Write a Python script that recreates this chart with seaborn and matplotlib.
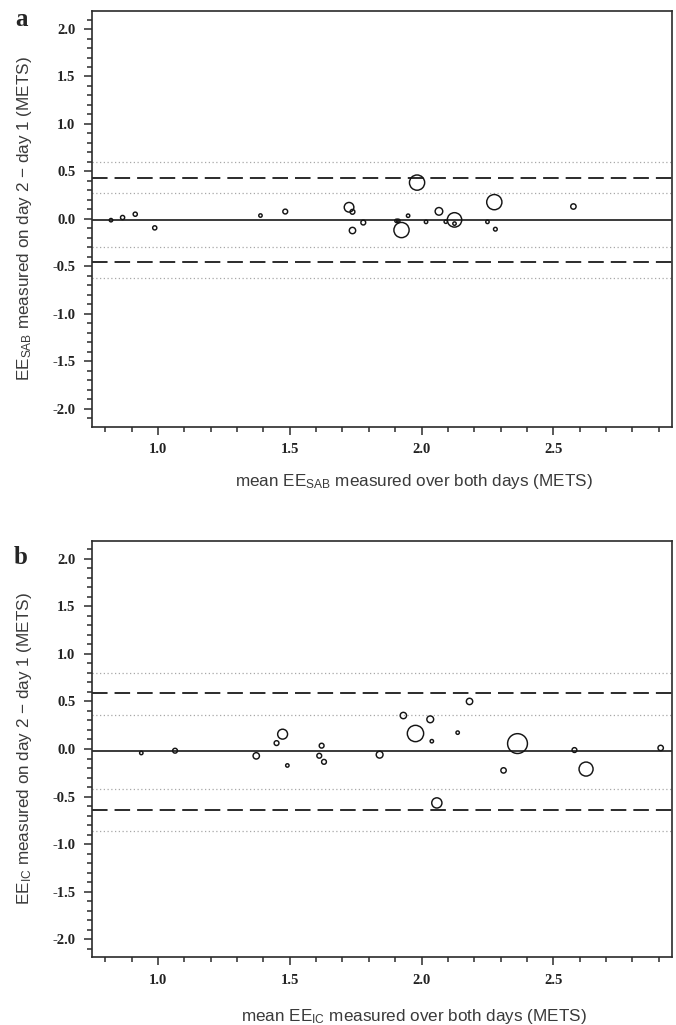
import matplotlib
matplotlib.use("Agg")
import matplotlib.pyplot as plt
import pandas as pd
import seaborn as sns
from matplotlib.ticker import MultipleLocator

# Panel a: EE_SAB, day 2 - day 1 against the mean of both days
sab_mean = [0.822, 0.866, 0.914, 0.988, 1.389, 1.483, 1.725, 1.738, 1.738, 1.779,
            1.905, 1.912, 1.924, 1.949, 1.983, 2.017, 2.066, 2.092, 2.125, 2.125,
            2.250, 2.276, 2.280, 2.576]
sab_diff = [-0.014, 0.014, 0.049, -0.095, 0.035, 0.077, 0.122, 0.074, -0.123, -0.039,
            -0.021, -0.021, -0.118, 0.033, 0.382, -0.032, 0.079, -0.030, -0.011, -0.050,
            -0.032, 0.176, -0.109, 0.130]
sab_n = [1, 1.5, 1.5, 1.5, 1, 2, 8, 2, 3.5, 2,
         1, 1, 20, 1, 20, 1, 5, 1, 18, 1,
         1, 20, 1.2, 2.5]
sab_bias = -0.01
sab_loa = [-0.457, 0.434]
sab_loa_ci = [-0.626, -0.297, 0.27, 0.594]

# Panel b: EE_IC
ic_mean = [0.937, 1.065, 1.373, 1.450, 1.473, 1.491, 1.612, 1.621, 1.630, 1.841,
           1.931, 1.977, 2.033, 2.039, 2.137, 2.182, 2.058, 2.311, 2.364, 2.580,
           2.624, 2.907]
ic_diff = [-0.042, -0.018, -0.072, 0.062, 0.156, -0.173, -0.071, 0.035, -0.135, -0.060,
           0.352, 0.163, 0.312, 0.082, 0.172, 0.500, -0.567, -0.225, 0.057, -0.011,
           -0.211, 0.011]
ic_n = [1, 2, 3.5, 2, 8.5, 1, 2, 2, 2, 4,
        3.5, 23, 4, 1, 1, 3.5, 9, 2.5, 34, 2,
        17, 2.5]
ic_bias = -0.025
ic_loa = [-0.637, 0.588]
ic_loa_ci = [-0.86, -0.42, 0.36, 0.80]

sns.set_style("white")
plt.rcParams['font.family'] = ['Liberation Sans', 'DejaVu Sans']
plt.rcParams['mathtext.fontset'] = 'custom'
plt.rcParams['mathtext.rm'] = 'Liberation Sans'
plt.rcParams['mathtext.it'] = 'Liberation Sans'
plt.rcParams['axes.unicode_minus'] = False

fig = plt.figure(figsize=(6.76, 10.25), dpi=100)
ax_a = fig.add_axes([92 / 676, 1 - 426.7 / 1025, 580 / 676, 415.7 / 1025])
ax_b = fig.add_axes([92 / 676, 1 - 957.3 / 1025, 580 / 676, 416.6 / 1025])

line_col = '#2b2b2b'


def draw_panel(ax, xs, ys, ns, bias, loa, loa_ci, name, xlab_y):
    df = pd.DataFrame({'mean': xs, 'diff': ys, 'n': ns})
    for v in loa_ci:
        ax.axhline(v, color='#a8a8a8', lw=0.9, ls=(0, (1, 2)), zorder=1)
    for v in loa:
        ax.axhline(v, color=line_col, lw=1.4, ls=(0, (8, 3.6)), zorder=2)
    ax.axhline(bias, color=line_col, lw=1.3, zorder=2)

    sns.scatterplot(data=df, x='mean', y='diff', size='n', sizes=(6, 204),
                    size_norm=(1, 34), legend=False, ax=ax, linewidth=1.05,
                    color='k', zorder=3)
    pts = ax.collections[-1]
    pts.set_facecolor('none')
    pts.set_edgecolor('#151515')

    ax.set_xlim(0.75, 2.95)
    ax.set_ylim(-2.19, 2.19)
    ax.xaxis.set_minor_locator(MultipleLocator(0.1))
    ax.yaxis.set_major_locator(MultipleLocator(0.5))
    ax.yaxis.set_minor_locator(MultipleLocator(0.1))
    ax.set_xticks([1.0, 1.5, 2.0, 2.5])
    ax.tick_params(which='both', direction='out', color=line_col, width=1.1,
                   bottom=True, left=True, top=False, right=False)
    ax.tick_params(which='major', length=6, pad=6)
    ax.tick_params(which='minor', length=3.5)
    for lab in ax.get_xticklabels() + ax.get_yticklabels():
        lab.set_family(['Liberation Serif', 'DejaVu Serif'])
        lab.set_fontweight('bold')
        lab.set_fontsize(10.5)
        lab.set_color('#222222')
    for sp in ax.spines.values():
        sp.set_color(line_col)
        sp.set_linewidth(1.2)

    ax.set_xlabel(r'mean EE$_{\mathrm{' + name + r'}}$ measured over both days (METS)',
                  fontsize=12.3, color='#3a3a3a')
    ax.set_ylabel(r'EE$_{\mathrm{' + name + r'}}$ measured on day 2 $-$ day 1 (METS)',
                  fontsize=12.3, color='#3a3a3a')
    ax.xaxis.set_label_coords(0.555, xlab_y)
    ax.yaxis.set_label_coords(-0.100, 0.5)


draw_panel(ax_a, sab_mean, sab_diff, sab_n, sab_bias, sab_loa, sab_loa_ci, 'SAB', -0.11)
draw_panel(ax_b, ic_mean, ic_diff, ic_n, ic_bias, ic_loa, ic_loa_ci, 'IC', -0.12)

fig.text(21 / 676, 1 - 20 / 1025, 'a', family=['Liberation Serif', 'DejaVu Serif'],
         fontweight='bold', fontsize=18, ha='center', va='center')
fig.text(21 / 676, 1 - 558 / 1025, 'b', family=['Liberation Serif', 'DejaVu Serif'],
         fontweight='bold', fontsize=18, ha='center', va='center')

fig.savefig('out.png', dpi=100)
